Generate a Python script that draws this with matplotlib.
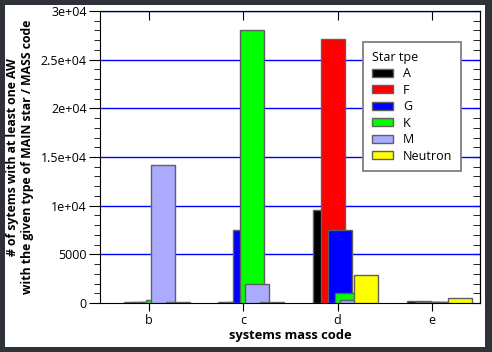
import numpy as np
import matplotlib.pyplot as plt
from matplotlib.patches import Rectangle
from matplotlib.ticker import MultipleLocator

plt.rcParams['font.family'] = ['Open Sans', 'DejaVu Sans']

codes = ["b", "c", "d", "e"]
star_types = ["A", "F", "G", "K", "M", "Neutron"]
colors = ["#000000", "#ff0000", "#0000ff", "#00ff00", "#aaaaff", "#ffff00"]

cnt_A = [120, 100, 9600, 180]
cnt_F = [110, 110, 27100, 150]
cnt_G = [100, 7500, 7500, 100]
cnt_K = [270, 28000, 1050, 100]
cnt_M = [14200, 2000, 280, 100]
cnt_N = [100, 100, 2850, 550]
series = [cnt_A, cnt_F, cnt_G, cnt_K, cnt_M, cnt_N]

yticks = [0, 5000, 10000, 15000, 20000, 25000, 30000]
ylabels = ["0", "5000", "1e+04", "1.5e+04", "2e+04", "2.5e+04", "3e+04"]

# left edge of each bar relative to the category, bars overlap
offs = [-0.265, -0.18, -0.106, -0.032, 0.021, 0.175]
w = 0.255

fig = plt.figure(figsize=(4.92, 3.52), dpi=100, facecolor="#2f3236")
fig.patches.append(Rectangle((5/492, 5/352), 480/492, 342/352, transform=fig.transFigure,
                             facecolor="white", edgecolor="none", zorder=-10))
ax = fig.add_axes([100/492, 49/352, 380/492, 292/352])
ax.set_facecolor("white")

x = np.arange(len(codes))
for i in range(len(series)):
    ax.bar(x + offs[i], series[i], width=w, align="edge", color=colors[i],
           edgecolor="#606060", linewidth=1, label=star_types[i], zorder=2 + i)

for v in yticks[1:]:
    ax.axhline(v, color="#0000ff", linewidth=1, zorder=1)

ax.set_xlim(-0.52, 3.51)
ax.set_ylim(0, 30000)
ax.set_xticks(x)
ax.set_xticklabels(codes)
ax.set_yticks(yticks)
ax.set_yticklabels(ylabels)
ax.yaxis.set_minor_locator(MultipleLocator(1000))
ax.tick_params(axis="both", labelsize=9, colors="black")
ax.tick_params(axis="x", direction="out", length=6, pad=2)
ax.tick_params(axis="y", which="major", direction="out", length=8, pad=1.5)
ax.tick_params(axis="y", which="minor", direction="out", length=4.3)

# inward ticks on top and right
top = ax.secondary_xaxis("top")
top.set_xticks(x)
top.tick_params(direction="in", length=6.5, labeltop=False)
right = ax.secondary_yaxis("right")
right.set_yticks(yticks)
right.yaxis.set_minor_locator(MultipleLocator(1000))
right.tick_params(which="both", direction="in", length=5, labelright=False)

ax.set_xlabel("systems mass code", fontsize=9.3, fontweight="bold", labelpad=1)
ax.set_ylabel("# of sytems with at least one AW\nwith the given type of MAIN star / MASS code",
              fontsize=8.8, fontweight="bold", labelpad=5)

leg = ax.legend(title="Star tpe", loc="upper left", bbox_to_anchor=(0.692, 0.894),
                borderaxespad=0, fontsize=9, title_fontsize=9, fancybox=False,
                framealpha=1, edgecolor="#808080", handlelength=1.7, handleheight=0.56,
                handletextpad=0.8, borderpad=0.7, labelspacing=0.28)
leg._legend_box.align = "left"
leg.get_frame().set_linewidth(1.3)

fig.savefig("out.png", dpi=100, facecolor=fig.get_facecolor())
